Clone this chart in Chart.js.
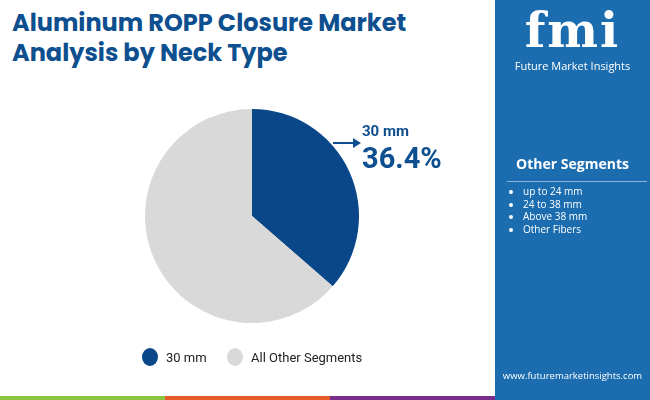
<!DOCTYPE html>
<html>
<head>
<meta charset="utf-8">
<script src="https://cdn.jsdelivr.net/npm/chart.js@4"></script>
<style>
  body { margin: 0; width: 650px; height: 400px; position: relative; overflow: hidden; background: #fff; font-family: Roboto, sans-serif; }
  .title { position: absolute; left: 12px; top: 8px; font: 700 24px Poppins, "Open Sans", sans-serif; color: #0e4f8f; line-height: 30px; }
  .panel { position: absolute; left: 495px; top: 0; width: 155px; height: 400px; background: #1b6db0; color: #fff; font-family: "Open Sans", sans-serif; }
  .logo { position: absolute; left: 0; width: 155px; top: 4px; text-align: center; font: 700 48px "DejaVu Serif", serif; letter-spacing: 2px; line-height: 52px; }
  .logo-sub { position: absolute; left: 0; width: 155px; top: 58px; text-align: center; font: 400 11px "Open Sans", sans-serif; }
  .seg { position: absolute; left: 0; width: 155px; top: 154px; text-align: center; font: 700 14px "Open Sans", sans-serif; }
  .rule { position: absolute; left: 12px; width: 140px; top: 181px; height: 1px; background: #8ab6dd; }
  .items { position: absolute; left: 10px; top: 185px; font-size: 10px; line-height: 12.5px; margin: 0; padding-left: 18px; }
  .url { position: absolute; left: 0; width: 155px; bottom: 18px; text-align: center; font-size: 9.5px; }
  .bar { position: absolute; top: 396px; height: 4px; width: 165px; }
  #chart-box { position: absolute; left: 145px; top: 109px; width: 214px; height: 214px; }
  .legend { position: absolute; top: 348px; font: 400 13px Roboto, sans-serif; color: #222; display: flex; align-items: center; }
  .dot { width: 16px; height: 18px; border-radius: 50%; margin-right: 8px; display: inline-block; }
  .callout1 { position: absolute; left: 362px; top: 122px; font: 700 15px Roboto, sans-serif; color: #0e4f8f; }
  .callout2 { position: absolute; left: 362px; top: 141px; font: 700 29px Roboto, sans-serif; color: #0e4f8f; }
</style>
</head>
<body>
<div class="title">Aluminum ROPP Closure Market<br>Analysis by Neck Type</div>
<div id="chart-box"><canvas id="pie"></canvas></div>
<svg style="position:absolute;left:0;top:0" width="495" height="400">
  <line x1="333" y1="143" x2="353" y2="143" stroke="#0e4f8f" stroke-width="2"/>
  <polygon points="353,138 361,143 353,148" fill="#0e4f8f"/>
</svg>
<div class="callout1">30 mm</div>
<div class="callout2">36.4%</div>
<div class="legend" style="left:142px"><span class="dot" style="background:#0a4788"></span>30 mm</div>
<div class="legend" style="left:227px"><span class="dot" style="background:#d9d9d9"></span>All Other Segments</div>
<div class="panel">
  <div class="logo">fmi</div>
  <div class="logo-sub">Future Market Insights</div>
  <div class="seg">Other Segments</div>
  <div class="rule"></div>
  <ul class="items" id="items"></ul>
  <div class="url">www.futuremarketinsights.com</div>
</div>
<div class="bar" style="left:0;background:#8bc53f"></div>
<div class="bar" style="left:165px;background:#e55a2b"></div>
<div class="bar" style="left:330px;background:#7b2d8b"></div>
<script>
// Datos del gráfico
const categories = ["30 mm", "All Other Segments"];
const shares = [36.4, 63.6];
const sliceColors = ["#0a4788", "#d9d9d9"];
const otherSegments = ["up to 24 mm", "24 to 38 mm", "Above 38 mm", "Other Fibers"];

document.getElementById("items").innerHTML = otherSegments.map(s => `<li>${s}</li>`).join("");

new Chart(document.getElementById("pie"), {
    type: 'pie',
    data: {
        labels: categories,
        datasets: [{ data: shares, backgroundColor: sliceColors, borderWidth: 0 }]
    },
    options: {
        responsive: true,
        maintainAspectRatio: false,
        animation: false,
        layout: { padding: 0 },
        plugins: { legend: { display: false }, tooltip: { enabled: false } }
    }
});
</script>
</body>
</html>
